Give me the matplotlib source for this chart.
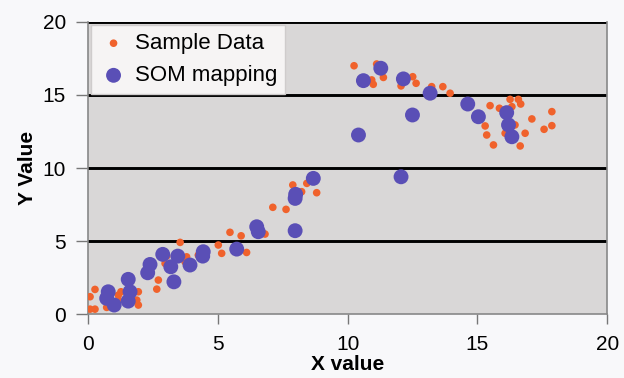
import matplotlib
matplotlib.use("Agg")
import matplotlib.pyplot as plt

plt.rcParams['font.family'] = ['Liberation Sans', 'DejaVu Sans']

# raw samples
sample_x = [0.08, 0.27, 0.08, 0.27, 0.72, 1.17, 1.17, 1.27, 1.94, 1.88, 1.94,
            2.65, 2.71, 2.97, 3.03, 3.55, 3.74, 3.80, 3.93, 4.25,
            5.02, 5.15, 5.47, 5.90, 6.11, 6.82, 7.12, 7.63, 7.89, 8.23, 8.43, 8.81,
            10.25, 11.12, 11.38, 10.93, 10.99, 12.06, 12.51, 12.64, 13.24, 13.67,
            13.95, 15.49, 15.85, 16.26, 16.58, 16.67, 16.33, 17.10, 17.87, 15.30,
            15.36, 16.07, 16.45, 16.84, 15.62, 16.65, 17.57, 17.87]
sample_y = [0.34, 0.34, 1.19, 1.69, 0.46, 1.30, 0.96, 1.53, 1.53, 0.96, 0.62,
            1.71, 2.33, 3.47, 3.97, 4.91, 3.58, 3.92, 3.24, 4.04,
            4.73, 4.16, 5.60, 5.36, 4.22, 5.48, 7.31, 7.17, 8.84, 8.38, 8.95, 8.31,
            17.00, 17.12, 16.20, 16.03, 15.73, 15.62, 16.25, 15.80, 15.57, 15.57,
            15.12, 14.27, 14.09, 14.70, 14.70, 14.38, 14.20, 13.36, 13.86, 12.88,
            12.26, 12.38, 12.95, 12.38, 11.58, 11.51, 12.65, 12.90]

# SOM node positions
som_x = [0.72, 0.78, 1.01, 1.55, 1.62, 1.55, 2.30, 2.39, 2.88, 3.19, 3.31,
         3.46, 3.93, 4.42, 4.44, 5.73, 6.50, 6.56, 7.98, 7.98, 8.00, 8.68,
         10.42, 10.61, 11.28, 12.06, 12.15, 12.50, 13.18, 14.63, 15.04,
         16.13, 16.20, 16.33]
som_y = [1.08, 1.53, 0.62, 0.89, 1.53, 2.38, 2.83, 3.40, 4.09, 3.24, 2.21,
         3.97, 3.36, 3.97, 4.27, 4.45, 5.98, 5.64, 5.71, 7.92, 8.20, 9.29,
         12.26, 15.98, 16.83, 9.40, 16.10, 13.63, 15.12, 14.38, 13.51,
         13.79, 12.95, 12.14]

x_ticks = [0, 5, 10, 15, 20]
y_ticks = [0, 5, 10, 15, 20]

fig = plt.figure(figsize=(6.24, 3.78), dpi=100, facecolor='#f8f8fa')
ax = fig.add_axes([0.141, 0.169, 0.832, 0.773])
ax.set_facecolor('#d9d7d7')

ax.scatter(sample_x, sample_y, s=30, color='#f0622c', edgecolors='none',
           label='Sample Data', zorder=3)
ax.scatter(som_x, som_y, s=115, color='#5a4fb6', edgecolors='none',
           label='SOM mapping', zorder=4)

for yv in y_ticks[1:]:
    ax.axhline(yv, color='black', lw=2.1, zorder=2)

ax.set_xlim(0, 20)
ax.set_ylim(0, 20)
ax.set_xticks(x_ticks)
ax.set_yticks(y_ticks)
ax.tick_params(axis='x', direction='out', length=7, width=1, color='#777777',
               labelsize=15, pad=8)
ax.tick_params(axis='y', direction='out', length=9, width=1, color='#777777',
               labelsize=15, pad=7)
for side in ['left', 'bottom', 'right']:
    ax.spines[side].set_color('#888888')
    ax.spines[side].set_linewidth(1.2)
ax.spines['top'].set_visible(False)

ax.set_xlabel('X value', fontsize=15, fontweight='bold', labelpad=1)
ax.set_ylabel('Y Value', fontsize=15, fontweight='bold', labelpad=4)

leg = ax.legend(loc='upper left', fontsize=16, frameon=True, fancybox=False,
                borderaxespad=0.15, handletextpad=0.3, borderpad=0.35,
                labelspacing=0.5, handlelength=1.3, markerscale=1.0)
leg.get_frame().set_facecolor('#f6f4f4')
leg.get_frame().set_edgecolor('#cfcccc')
leg.get_frame().set_alpha(1)

fig.savefig('out.png', dpi=100, facecolor=fig.get_facecolor())
